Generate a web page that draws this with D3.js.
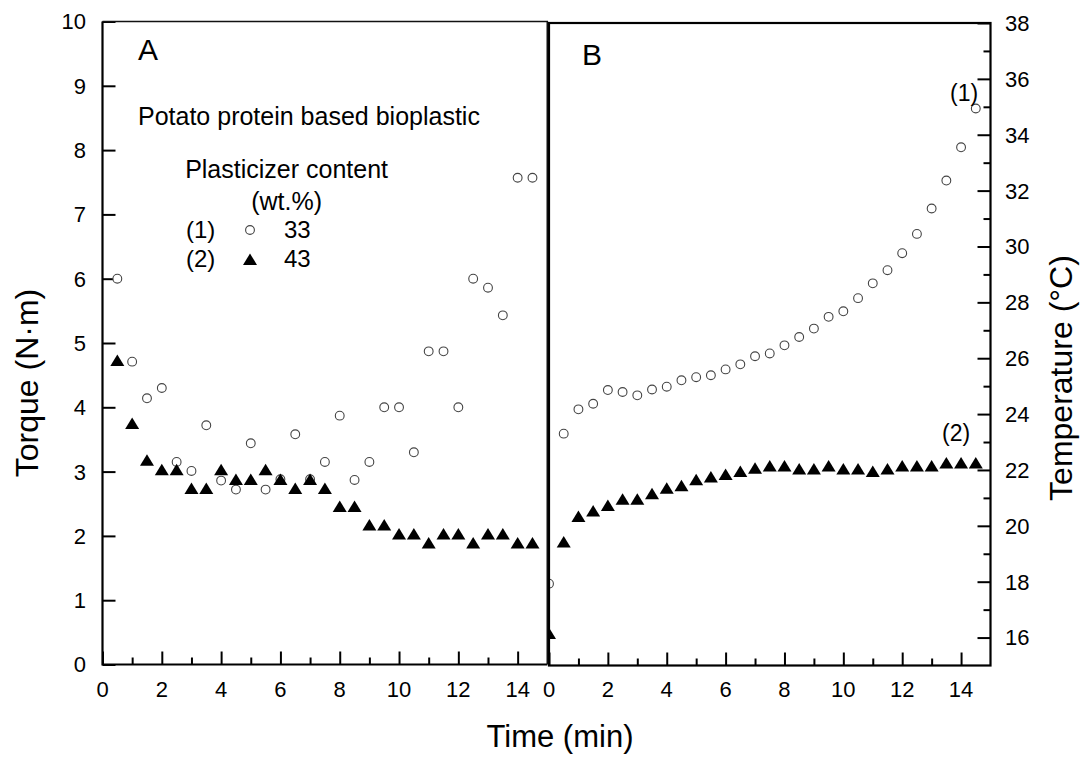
<!DOCTYPE html>
<html><head><meta charset="utf-8">
<script src="https://cdn.jsdelivr.net/npm/d3@7"></script>
<style>
html,body{margin:0;padding:0;background:#fff;}
text{font-family:"Liberation Sans",Arial,sans-serif;fill:#000;}
</style></head>
<body>
<svg id="chart" width="1082" height="758"></svg>
<script>
// ---------- data ----------
const timeA = [0.5,1,1.5,2,2.5,3,3.5,4,4.5,5,5.5,6,6.5,7,7.5,8,8.5,9,9.5,10,10.5,11,11.5,12,12.5,13,13.5,14,14.5];
const torque33 = [6.0,4.71,4.14,4.30,3.15,3.01,3.72,2.86,2.72,3.44,2.72,2.88,3.58,2.88,3.15,3.87,2.87,3.15,4.0,4.0,3.30,4.87,4.87,4.0,6.0,5.86,5.43,7.57,7.57];
const torque43 = [4.72,3.74,3.17,3.02,3.02,2.73,2.73,3.02,2.87,2.87,3.02,2.87,2.73,2.87,2.73,2.45,2.45,2.16,2.16,2.02,2.02,1.88,2.02,2.02,1.88,2.02,2.02,1.88,1.88];
const timeB = [0,0.5,1,1.5,2,2.5,3,3.5,4,4.5,5,5.5,6,6.5,7,7.5,8,8.5,9,9.5,10,10.5,11,11.5,12,12.5,13,13.5,14,14.5];
const temp33 = [17.93,23.30,24.17,24.37,24.86,24.79,24.67,24.88,24.98,25.21,25.32,25.39,25.6,25.78,26.07,26.17,26.46,26.76,27.06,27.48,27.68,28.15,28.68,29.15,29.76,30.45,31.36,32.36,33.55,34.94];
const temp43 = [16.13,19.40,20.32,20.51,20.71,20.93,20.93,21.13,21.33,21.42,21.63,21.73,21.82,21.93,22.04,22.12,22.12,22.02,22.02,22.12,22.02,22.02,21.93,22.02,22.12,22.12,22.12,22.23,22.23,22.23];
const timeTicksMajor = [0,2,4,6,8,10,12,14];
const timeTicksMinor = [1,3,5,7,9,11,13];
const torqueTicks = [0,1,2,3,4,5,6,7,8,9,10];
const tempTicksMajor = [16,18,20,22,24,26,28,30,32,34,36,38];
const tempTicksMinor = [17,19,21,23,25,27,29,31,33,35,37];

// ---------- scales ----------
const svg = d3.select("#chart");
const xA = d3.scaleLinear().domain([0,15]).range([102.5,547.3]);
const xB = d3.scaleLinear().domain([0,15]).range([549,990.5]);
const yA = d3.scaleLinear().domain([0,10]).range([664.5,21.5]);
const yB = d3.scaleLinear().domain([15,38]).range([665.5,23]);

const tri = "M0,-6.5L7,5L-7,5Z";
const circR = 4.4;
const tickFont = 22;

svg.append("defs").append("clipPath").attr("id","clipB")
  .append("rect").attr("x",xB(0)).attr("y",yB(38)).attr("width",xB(15)-xB(0)).attr("height",yB(15)-yB(38));

// ---------- panel A axes ----------
const gA = svg.append("g");
const leftAx = d3.axisRight(yA).tickValues(torqueTicks).tickSize(13).tickFormat("");
gA.append("g").attr("transform",`translate(${xA(0)},0)`).call(leftAx)
  .call(g=>g.select(".domain").remove())
  .selectAll("line").attr("stroke","#000").attr("stroke-width",2);
gA.selectAll(".ylab").data(torqueTicks).join("text")
  .attr("x",86).attr("y",d=>yA(d)).attr("dy","0.36em").attr("text-anchor","end")
  .attr("font-size",tickFont).text(d=>d);
const botA = d3.axisTop(xA).tickValues(timeTicksMajor).tickSize(13).tickFormat("");
gA.append("g").attr("transform",`translate(0,${yA(0)})`).call(botA)
  .call(g=>g.select(".domain").remove())
  .selectAll("line").attr("stroke","#000").attr("stroke-width",2);
const botAm = d3.axisTop(xA).tickValues(timeTicksMinor).tickSize(7).tickFormat("");
gA.append("g").attr("transform",`translate(0,${yA(0)})`).call(botAm)
  .call(g=>g.select(".domain").remove())
  .selectAll("line").attr("stroke","#000").attr("stroke-width",2);
gA.selectAll(".xlabA").data(timeTicksMajor).join("text")
  .attr("x",d=>xA(d)).attr("y",697).attr("text-anchor","middle")
  .attr("font-size",tickFont).text(d=>d);
gA.append("path").attr("d",`M${xA(0)},${yA(10)}V${yA(0)}H${xA(15)}`).attr("fill","none").attr("stroke","#000").attr("stroke-width",2.2);
gA.append("path").attr("d",`M${xA(0)},${yA(10)}H${xA(15)}V${yA(0)}`).attr("fill","none").attr("stroke","#111").attr("stroke-width",1.6);

// ---------- panel A data ----------
gA.selectAll(".c33").data(timeA).join("circle")
  .attr("cx",d=>xA(d)).attr("cy",(d,i)=>yA(torque33[i])).attr("r",circR)
  .attr("fill","#fff").attr("stroke","#444").attr("stroke-width",1.1);
gA.selectAll(".t43").data(timeA).join("path")
  .attr("d",tri).attr("transform",(d,i)=>`translate(${xA(d)},${yA(torque43[i])})`).attr("fill","#000");

// ---------- panel B ----------
const gB = svg.append("g");
const gBd = gB.append("g").attr("clip-path","url(#clipB)");
gBd.selectAll(".c33b").data(timeB).join("circle")
  .attr("cx",d=>xB(d)).attr("cy",(d,i)=>yB(temp33[i])).attr("r",circR)
  .attr("fill","#fff").attr("stroke","#444").attr("stroke-width",1.1);
gBd.selectAll(".t43b").data(timeB).join("path")
  .attr("d",tri).attr("transform",(d,i)=>`translate(${xB(d)},${yB(temp43[i])})`).attr("fill","#000");

const botB = d3.axisTop(xB).tickValues(timeTicksMajor).tickSize(13).tickFormat("");
gB.append("g").attr("transform",`translate(0,${yB(15)})`).call(botB)
  .call(g=>g.select(".domain").remove())
  .selectAll("line").attr("stroke","#000").attr("stroke-width",2);
const botBm = d3.axisTop(xB).tickValues(timeTicksMinor).tickSize(7).tickFormat("");
gB.append("g").attr("transform",`translate(0,${yB(15)})`).call(botBm)
  .call(g=>g.select(".domain").remove())
  .selectAll("line").attr("stroke","#000").attr("stroke-width",2);
gB.selectAll(".xlabB").data(timeTicksMajor).join("text")
  .attr("x",d=>xB(d)).attr("y",697).attr("text-anchor","middle")
  .attr("font-size",tickFont).text(d=>d);
const rAx = d3.axisLeft(yB).tickValues(tempTicksMajor).tickSize(13).tickFormat("");
gB.append("g").attr("transform",`translate(${xB(15)},0)`).call(rAx)
  .call(g=>g.select(".domain").remove())
  .selectAll("line").attr("stroke","#000").attr("stroke-width",2);
const rAxm = d3.axisLeft(yB).tickValues(tempTicksMinor).tickSize(7).tickFormat("");
gB.append("g").attr("transform",`translate(${xB(15)},0)`).call(rAxm)
  .call(g=>g.select(".domain").remove())
  .selectAll("line").attr("stroke","#000").attr("stroke-width",2);
gB.selectAll(".rlab").data(tempTicksMajor).join("text")
  .attr("x",1005).attr("y",d=>yB(d)).attr("dy","0.36em").attr("text-anchor","start")
  .attr("font-size",tickFont).text(d=>d);
gB.append("rect").attr("x",xB(0)).attr("y",yB(38)).attr("width",xB(15)-xB(0)).attr("height",yB(15)-yB(38))
  .attr("fill","none").attr("stroke","#000").attr("stroke-width",2.2);

// ---------- annotations ----------
svg.append("text").attr("x",138).attr("y",60).attr("font-size",30).text("A");
svg.append("text").attr("x",582).attr("y",65).attr("font-size",30).text("B");
svg.append("text").attr("x",138).attr("y",125).attr("font-size",25).text("Potato protein based bioplastic");
svg.append("text").attr("x",388).attr("y",178).attr("text-anchor","end").attr("font-size",25).text("Plasticizer content");
svg.append("text").attr("x",322).attr("y",210).attr("text-anchor","end").attr("font-size",25).text("(wt.%)");
svg.append("text").attr("x",186).attr("y",238).attr("font-size",24).text("(1)");
svg.append("circle").attr("cx",250).attr("cy",230).attr("r",circR).attr("fill","#fff").attr("stroke","#444").attr("stroke-width",1.1);
svg.append("text").attr("x",284).attr("y",238).attr("font-size",24).text("33");
svg.append("text").attr("x",186).attr("y",267).attr("font-size",24).text("(2)");
svg.append("path").attr("d",tri).attr("transform","translate(250,260)").attr("fill","#000");
svg.append("text").attr("x",284).attr("y",267).attr("font-size",24).text("43");
svg.append("text").attr("x",950).attr("y",101).attr("font-size",23).text("(1)");
svg.append("text").attr("x",942).attr("y",441).attr("font-size",23).text("(2)");

svg.append("text").attr("x",560).attr("y",747).attr("text-anchor","middle").attr("font-size",31).text("Time (min)");
svg.append("text").attr("transform","translate(38,383) rotate(-90)").attr("text-anchor","middle").attr("font-size",32).text("Torque (N·m)");
svg.append("text").attr("transform","translate(1072,378) rotate(-90)").attr("text-anchor","middle").attr("font-size",32).text("Temperature (°C)");
</script>
</body></html>
